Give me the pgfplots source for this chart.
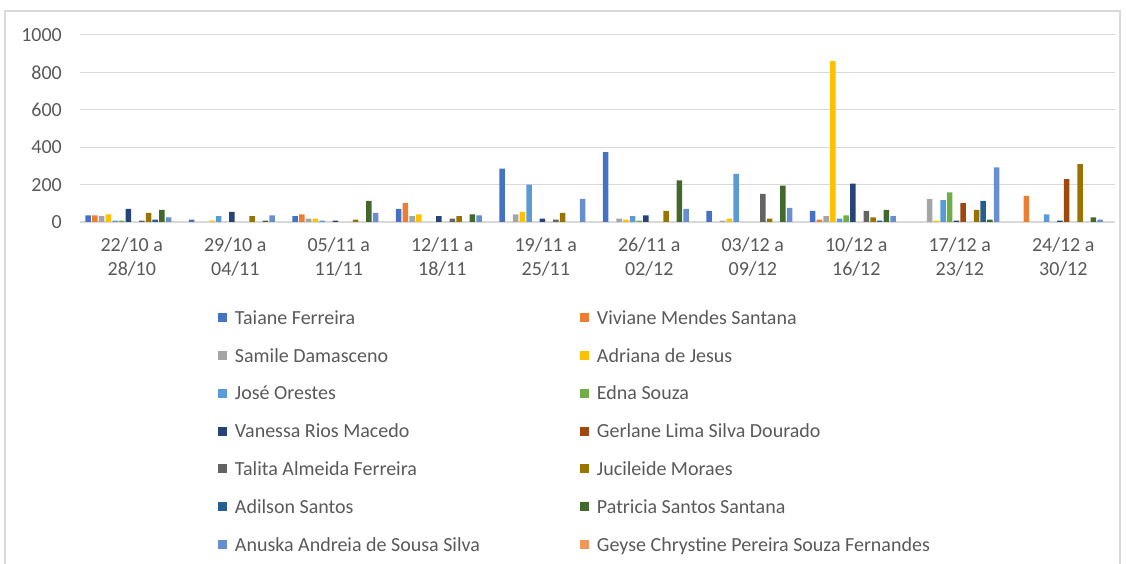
\documentclass[border=0pt]{standalone}
\usepackage{fontspec}
\setmainfont{Carlito}
\usepackage{pgfplots}
\pgfplotsset{compat=1.18}
\definecolor{cA}{HTML}{4472C4}
\definecolor{cB}{HTML}{ED7D31}
\definecolor{cC}{HTML}{A5A5A5}
\definecolor{cD}{HTML}{FFC000}
\definecolor{cE}{HTML}{5B9BD5}
\definecolor{cF}{HTML}{70AD47}
\definecolor{cG}{HTML}{264478}
\definecolor{cH}{HTML}{9E480E}
\definecolor{cI}{HTML}{636363}
\definecolor{cJ}{HTML}{997300}
\definecolor{cK}{HTML}{255E91}
\definecolor{cL}{HTML}{43682B}
\definecolor{cM}{HTML}{698ED0}
\definecolor{cN}{HTML}{F1975A}
\definecolor{txt}{HTML}{595959}
\definecolor{grd}{HTML}{D9D9D9}
\begin{document}
\begin{tikzpicture}[x=1pt,y=1pt]
\useasboundingbox (0,0) rectangle (1126,564);
\draw[grd, line width=1.2pt] (5,0) -- (5,553) -- (1120,553) -- (1120,0);
\begin{axis}[
  at={(80pt,342pt)}, anchor=south west,
  scale only axis, width=1035pt, height=187pt,
  font=\fontsize{20}{24}\selectfont, 
  ybar=1.2pt, bar width=5.5pt,
  xmin=-0.5, xmax=9.5, ymin=0, ymax=1000,
  xtick={0,...,9},
  xticklabels={{22/10 a\\28/10},{29/10 a\\04/11},{05/11 a\\11/11},{12/11 a\\18/11},{19/11 a\\25/11},{26/11 a\\02/12},{03/12 a\\09/12},{10/12 a\\16/12},{17/12 a\\23/12},{24/12 a\\30/12}},
  xticklabel style={align=center, text=txt, inner ysep=0pt, yshift=-15pt},
  ytick={0,200,...,1000},
  yticklabel style={text=txt, inner xsep=0pt, xshift=-18pt},
  /pgf/number format/assume math mode=true,
  /pgf/number format/1000 sep={},
  major tick length=0pt,
  ymajorgrids, grid style={grd, line width=1pt},
  axis x line*=bottom, axis y line*=left,
  x axis line style={grd, line width=1.5pt, -},
  y axis line style={draw=none},
  legend columns=2,
  legend image code/.code={\fill[#1, draw=none] (0pt,2pt) rectangle (9pt,11pt);},
  legend style={draw=none, fill=none, inner sep=0pt, outer sep=0pt,
    at={(0.1333,-0.472)}, anchor=north west,
    row sep=19.8pt, text=txt,
    /tikz/every odd column/.style={column sep=8pt},
    /tikz/every even column/.style={column sep=0pt},
    nodes={inner sep=0pt, text height=14pt, text depth=4pt, anchor=base west}},
  legend cell align=left,
]
\addplot[fill=cA, draw=none] coordinates {(0,36) (1,13) (2,31) (3,70) (4,286) (5,373) (6,59) (7,59)};
\addlegendentry{\makebox[345pt][l]{Taiane Ferreira}}
\addplot[fill=cB, draw=none] coordinates {(0,36) (2,41) (3,101) (7,13) (9,140)};
\addlegendentry{Viviane Mendes Santana}
\addplot[fill=cC, draw=none] coordinates {(0,31) (2,18) (3,31) (4,41) (5,18) (6,7) (7,31) (8,124)};
\addlegendentry{\makebox[345pt][l]{Samile Damasceno}}
\addplot[fill=cD, draw=none] coordinates {(0,41) (1,7) (2,18) (3,41) (4,54) (5,13) (6,18) (7,860) (8,7)};
\addlegendentry{Adriana de Jesus}
\addplot[fill=cE, draw=none] coordinates {(0,7) (1,31) (2,7) (4,200) (5,31) (6,258) (7,18) (8,117) (9,41)};
\addlegendentry{\makebox[345pt][l]{José Orestes}}
\addplot[fill=cF, draw=none] coordinates {(0,7) (5,7) (7,36) (8,158)};
\addlegendentry{Edna Souza}
\addplot[fill=cG, draw=none] coordinates {(0,70) (1,54) (2,7) (3,31) (4,18) (5,36) (7,205) (8,7) (9,7)};
\addlegendentry{\makebox[345pt][l]{Vanessa Rios Macedo}}
\addplot[fill=cH, draw=none] coordinates {(8,101) (9,229)};
\addlegendentry{Gerlane Lima Silva Dourado}
\addplot[fill=cI, draw=none] coordinates {(0,7) (3,18) (4,13) (6,151) (7,59)};
\addlegendentry{\makebox[345pt][l]{Talita Almeida Ferreira}}
\addplot[fill=cJ, draw=none] coordinates {(0,49) (1,31) (2,13) (3,31) (4,49) (5,59) (6,18) (7,25) (8,65) (9,310)};
\addlegendentry{Jucileide Moraes}
\addplot[fill=cK, draw=none] coordinates {(0,13) (7,7) (8,113)};
\addlegendentry{\makebox[345pt][l]{Adilson Santos}}
\addplot[fill=cL, draw=none] coordinates {(0,65) (1,7) (2,113) (3,41) (5,222) (6,195) (7,65) (8,13) (9,25)};
\addlegendentry{Patricia Santos Santana}
\addplot[fill=cM, draw=none] coordinates {(0,25) (1,36) (2,49) (3,36) (4,124) (5,70) (6,76) (7,31) (8,292) (9,13)};
\addlegendentry{\makebox[345pt][l]{Anuska Andreia de Sousa Silva}}
\addplot[fill=cN, draw=none] coordinates {(0,0)};
\addlegendentry{Geyse Chrystine Pereira Souza Fernandes}
\end{axis}
\end{tikzpicture}
\end{document}
